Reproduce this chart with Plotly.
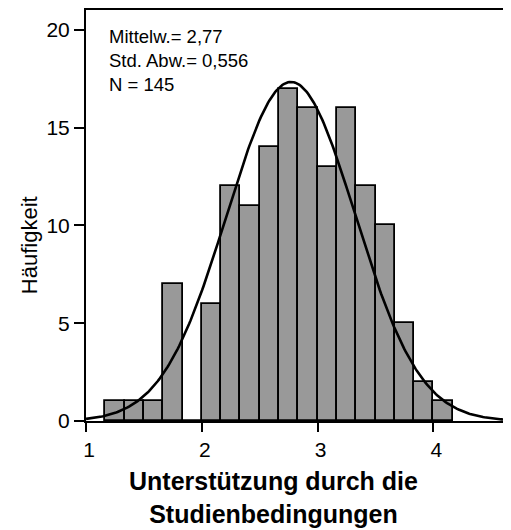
import numpy as np
import plotly.graph_objects as go

# histogram bins (width 1/6), left edges and counts
bin_width = 1 / 6
bin_left = [1 + k / 6 for k in range(1, 19)]
counts = [1, 1, 1, 7, 0, 6, 12, 11, 14, 17, 16, 13, 16, 12, 10, 5, 2, 1]

mean = 2.77
sd = 0.556
n = 145

x_ticks = [1, 2, 3, 4]
y_ticks = [0, 5, 10, 15, 20]

font = "Liberation Sans, Arial, sans-serif"

centers = [b + bin_width / 2 for b in bin_left]

# normal curve scaled to the histogram
xc = np.linspace(1.0, 4.7, 300)
yc = n * bin_width / (sd * np.sqrt(2 * np.pi)) * np.exp(-0.5 * ((xc - mean) / sd) ** 2)

fig = go.Figure()
fig.add_trace(go.Bar(
    x=centers, y=counts, width=bin_width,
    marker=dict(color="#999999", line=dict(color="black", width=1.8)),
))
fig.add_trace(go.Scatter(
    x=xc, y=yc, mode="lines",
    line=dict(color="black", width=2.6),
))

# page body has an 8px margin, so the figure is 8px smaller than the window
fig.update_layout(
    width=503, height=522,
    margin=dict(l=78, r=0, t=2, b=109),
    plot_bgcolor="white", paper_bgcolor="white",
    showlegend=False,
    bargap=0,
    font=dict(family=font, color="black"),
    xaxis=dict(
        range=[1, 4.67], tickvals=x_ticks, ticktext=[str(v) for v in x_ticks],
        showgrid=False, zeroline=False,
        showline=True, linecolor="black", linewidth=2, mirror=True,
        ticks="outside", ticklen=9, tickwidth=2, tickcolor="black",
        tickfont=dict(size=21), ticklabelshift=3,
    ),
    yaxis=dict(
        range=[0, 21.02], tickvals=y_ticks,
        showgrid=False, zeroline=False,
        showline=True, linecolor="black", linewidth=2,
        ticks="outside", ticklen=10, tickwidth=2, tickcolor="black",
        tickfont=dict(size=21),
    ),
    annotations=[
        dict(
            text="Mittelw.= 2,77<br>Std. Abw.= 0,556<br>N = 145",
            xref="x", yref="y", x=1.185, y=20.3,
            xanchor="left", yanchor="top", align="left",
            showarrow=False, font=dict(size=18.5),
        ),
        dict(
            text="Häufigkeit", textangle=-90,
            xref="paper", yref="paper", x=-0.134, y=0.428,
            xanchor="center", yanchor="middle",
            showarrow=False, font=dict(size=22),
        ),
        dict(
            text="<b>Unterstützung durch die<br>Studienbedingungen</b>",
            xref="paper", yref="paper", x=0.44, y=-0.107,
            xanchor="center", yanchor="top", align="center",
            showarrow=False, font=dict(size=25),
        ),
    ],
)

fig.write_html("out.html")
